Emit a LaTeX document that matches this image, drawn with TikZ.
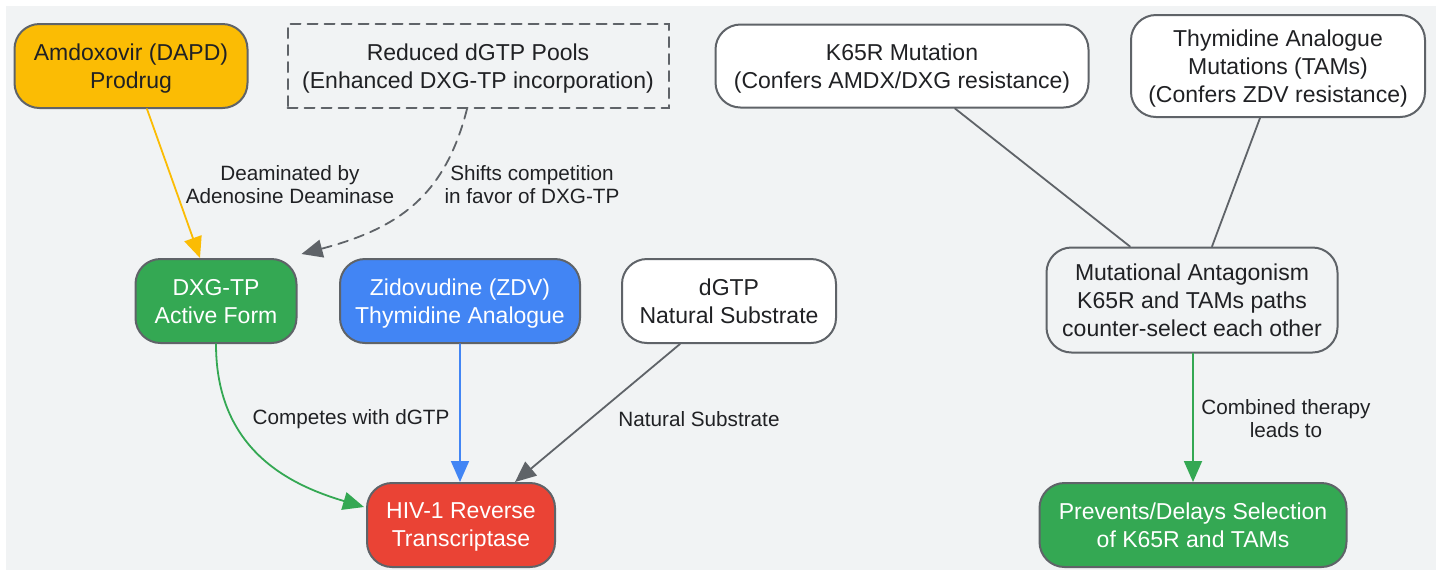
\documentclass[tikz,border=0pt]{standalone}
\usepackage{fontspec}
\setmainfont{Liberation Sans}
\usetikzlibrary{arrows.meta}

\definecolor{bgray}{HTML}{F1F3F4}
\definecolor{edgegray}{HTML}{5F6368}
\definecolor{txtdark}{HTML}{202124}
\definecolor{gyellow}{HTML}{FBBC04}
\definecolor{ggreen}{HTML}{34A853}
\definecolor{gblue}{HTML}{4285F4}
\definecolor{gred}{HTML}{EA4335}

\begin{document}
\begin{tikzpicture}
			[x=0.5pt,y=-0.5pt,line cap=round,
			%Styles
			main node/.style={rectangle,rounded corners=12.5pt,draw=edgegray,line width=1pt,
				inner sep=0pt,align=center,text=txtdark,text depth=0pt,
				font=\fontsize{11.5}{14}\selectfont},
			drug node/.style={main node,text=white},
			pool box/.style={main node,rounded corners=0pt,dashed,dash pattern=on 5pt off 3.5pt},
			edge text/.style={align=center,text=txtdark,inner sep=0pt,
				font=\fontsize{10.35}{11.5}\selectfont},
			link/.style={line width=0.9pt,-{Triangle[length=10.5pt,width=9pt]}},
			plain link/.style={line width=0.9pt,draw=edgegray}
			]
			
			%Canvas
			\useasboundingbox (0,0) rectangle (1440,575);
			\fill[white] (0,0) rectangle (1440,575);
			\fill[bgray] (6,6) rectangle (1436,570);
			
			%The graphic
			\node[drug node,fill=gyellow,text=txtdark,minimum width=116.5pt,minimum height=42pt] (amdx) at (131,66) {Amdoxovir (DAPD)\\Prodrug};
			\node[pool box,minimum width=190.5pt,minimum height=42pt] (pools) at (478,66) {Reduced dGTP Pools\\(Enhanced DXG-TP incorporation)};
			\node[main node,fill=white,minimum width=186.5pt,minimum height=41.5pt] (kmut) at (902,66) {K65R Mutation\\(Confers AMDX/DXG resistance)};
			\node[main node,fill=white,minimum width=147pt,minimum height=51pt] (tams) at (1278,66) {Thymidine Analogue\\Mutations (TAMs)\\(Confers ZDV resistance)};
			
			\node[drug node,fill=ggreen,minimum width=80.5pt,minimum height=42pt] (dxg) at (216,301) {DXG-TP\\Active Form};
			\node[drug node,fill=gblue,minimum width=120pt,minimum height=42pt] (zdv) at (460,301) {Zidovudine (ZDV)\\Thymidine Analogue};
			\node[main node,fill=white,minimum width=107pt,minimum height=42pt] (dgtp) at (729,301) {dGTP\\Natural Substrate};
			\node[main node,fill=bgray,minimum width=145.5pt,minimum height=52.5pt] (antag) at (1192,300) {Mutational Antagonism\\K65R and TAMs paths\\counter-select each other};
			
			\node[drug node,fill=gred,minimum width=94pt,minimum height=42pt] (hiv) at (461,525) {HIV-1 Reverse\\Transcriptase};
			\node[drug node,fill=ggreen,minimum width=153.5pt,minimum height=42pt] (prev) at (1193,525) {Prevents/Delays Selection\\of K65R and TAMs};
			
			%Connectors
			\draw[link,gyellow] ([xshift=8pt]amdx.south) -- ([xshift=-8pt]dxg.north);
			\draw[link,edgegray,dashed,dash pattern=on 5pt off 3.5pt] ([xshift=-5.5pt]pools.south) .. controls (445,195) and (400,228) .. ([xshift=2pt,yshift=2pt]dxg.north east);
			\draw[link,ggreen] (dxg.south) .. controls (216,450) and (290,485) .. ([xshift=-1pt,yshift=9pt]hiv.west);
			\draw[link,gblue] (zdv.south) -- ([xshift=-0.5pt]hiv.north);
			\draw[link,edgegray] ([xshift=-24.5pt]dgtp.south) -- ([xshift=27pt]hiv.north);
			\draw[plain link] ([xshift=26.5pt]kmut.south) -- ([xshift=-31pt]antag.north);
			\draw[plain link] ([xshift=-9pt]tams.south) -- ([xshift=10pt]antag.north);
			\draw[link,ggreen] ([xshift=0.5pt]antag.south) -- (prev.north);
			
			%Labels
			\node[edge text] (deam) at (290,185) {Deaminated by\\Adenosine Deaminase};
			\node[edge text] (shift) at (532,185) {Shifts competition\\in favor of DXG-TP};
			\node[edge text] (comp) at (351,419) {Competes with dGTP};
			\node[edge text] (natl) at (699,419) {Natural Substrate};
			\node[edge text] (comb) at (1286,419) {Combined therapy\\leads to};
		\end{tikzpicture}
\end{document}
